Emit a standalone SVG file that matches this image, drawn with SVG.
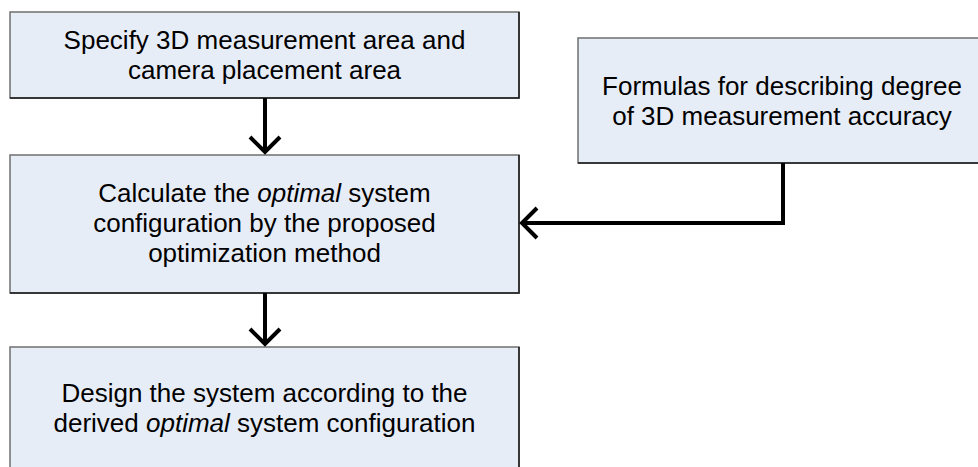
<svg xmlns="http://www.w3.org/2000/svg" width="978" height="467" viewBox="0 0 978 467">
<style>
.box{fill:#E7EDF7;stroke:#6f6f6f;stroke-width:1.5}
.edge{fill:none;stroke:#1a1a1a;stroke-width:1.5}
.t{font-family:"Liberation Sans",Arial,sans-serif;font-size:26px;fill:#000;text-anchor:middle}
.conn{fill:none;stroke:#000;stroke-width:4}
</style>
<defs>
<marker id="arr" markerUnits="userSpaceOnUse" viewBox="-20 -20 26 40" refX="0" refY="0" markerWidth="26" markerHeight="40" orient="auto">
<path d="M-15,-15 L0,0 L-15,15" fill="none" stroke="#000" stroke-width="4"/>
</marker>
</defs>
<rect width="978" height="467" fill="#fff"/>
<g id="node-specify">
<rect class="box" x="10" y="12" width="509" height="86"/>
<path class="edge" d="M519,12 V98 H10"/>
<text class="t" x="264.5" y="49">Specify 3D measurement area and</text>
<text class="t" x="264.5" y="79">camera placement area</text>
</g>
<g id="node-formulas">
<rect class="box" x="578" y="38" width="410" height="125"/>
<path class="edge" d="M578,163 H988"/>
<text class="t" x="782" y="95">Formulas for describing degree</text>
<text class="t" x="782" y="125">of 3D measurement accuracy</text>
</g>
<g id="node-calculate">
<rect class="box" x="10" y="155" width="509" height="138"/>
<path class="edge" d="M519,155 V293 H10"/>
<text class="t" x="264.5" y="202">Calculate the <tspan font-style="italic">optimal</tspan> system</text>
<text class="t" x="264.5" y="232">configuration by the proposed</text>
<text class="t" x="264.5" y="262">optimization method</text>
</g>
<g id="node-design">
<rect class="box" x="10" y="347" width="509" height="140"/>
<path class="edge" d="M519,347 V487"/>
<text class="t" x="264.5" y="402">Design the system according to the</text>
<text class="t" x="264.5" y="432">derived <tspan font-style="italic">optimal</tspan> system configuration</text>
</g>
<g id="connectors">
<path class="conn" d="M265,98 V152" marker-end="url(#arr)"/>
<path class="conn" d="M265,293 V344" marker-end="url(#arr)"/>
<path class="conn" d="M783,163 V223 H522" marker-end="url(#arr)"/>
</g>
</svg>
